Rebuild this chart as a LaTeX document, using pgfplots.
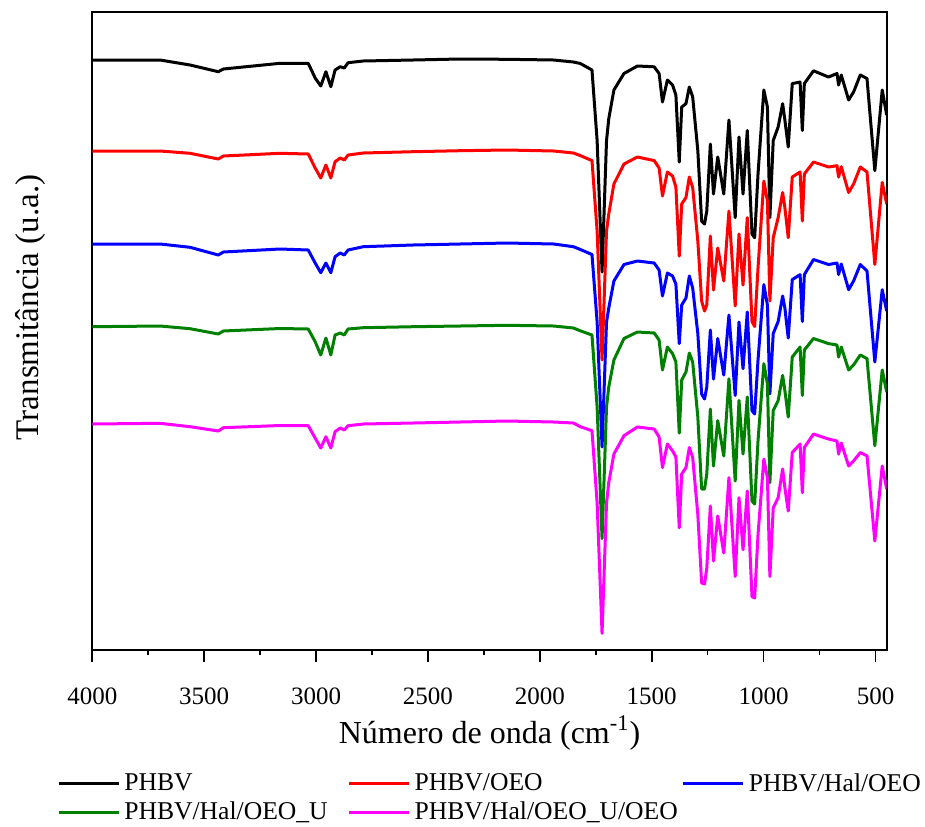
\documentclass[border=0pt]{standalone}
\usepackage{fontspec}
\setmainfont{Liberation Serif}
\usepackage{pgfplots}
\usepackage{pgfplotstable}
\pgfplotsset{compat=1.18}
\usetikzlibrary{calc}

\pgfplotstableread{
w k r b g m
4000 60 151 244 326.7 424
3697 60 151 244 326 423.3
3563 65 153.3 247.3 328.7 426.7
3437 71.7 159 255 334 431
3414 69 156 252 331 427.7
3161 63.3 153.3 249 328.5 425.5
3035 63.3 154 250 329 425.7
3004 78 168 263 341.7 438
2979 86 178 272.7 355 448
2956 71.7 165 263 338 436.7
2934 86.7 178 272.7 355 448
2915 70 161.7 256.7 335 431.7
2892 66.7 158 253 333 428
2874 68 160 255 335 430
2857 62.7 155 250 329 425.7
2789 61 153 246.7 327.7 424
2566 60 151.7 245 326.7 423
2356 59 150.7 244 326 422
2147 59.3 150 243 325.3 421
1938 60 151 244 326 422
1850 62 153 246.7 328 423
1819 63.5 155.6 249.5 330.8 426.7
1767 70 160.6 254.5 335 430.7
1744 140.5 231 322 407 503
1722 272 360 447 538.6 633.4
1702 140.5 231 322 407 503
1692 118.8 214 308 387 482.6
1669 90 184 281 360 454
1624 73.5 164 264.5 338.5 435.7
1564 66 157 261 332 427
1489 66.8 160.6 263 333 429
1467 73.5 168 270 340 437
1452 102 196 296 370 467.6
1430 80 172 273 347 444
1407 85 176 276 353.6 450.8
1392 95 187 284 362 457
1377 162 256 343.6 433 527.9
1366 107 204 305 380 474
1347 103.7 197.5 298 372 467.6
1332 87 177 276 353 447.5
1317 97 187.5 288 362 457.5
1294 150.6 241 333.5 417 514.5
1277 221 301 394 489 583
1264 224 311 399 489 584
1254 211 305 387 474 568
1238 144 236 330 409 506
1224 194 290 379 466 561
1205 157 248 338.5 420.6 516
1178 194 281 375 456 553
1155 120 211 315 378.8 477.6
1127 217.6 306 395.5 481 576.5
1110 137 234 322 400.5 497.7
1092 194 285 368.7 454 549.7
1073 130.5 217.6 312 397 491
1052 234 321.5 410.6 501 596.6
1040 237.7 326.5 414 504 598
1025 174 268 360 440.7 534.6
999 90 181 284.6 363.7 459
983 107 201 305 383.8 477.6
972 217.6 301 394 482.6 576.5
957 140.5 237.7 333.5 410.6 507.8
935 127 217.6 321.5 400.5 497.7
915 103.7 192.5 296 375.4 469
905 120 207.6 308 390.5 487.7
890 147 237.7 338 417 511
872 83.6 177 279.6 357 452.5
837 82 172 274.6 347 444
827 130.5 221 321.5 395.5 492.7
818 83.6 174 274.6 350 447.5
777 70.8 162 259.5 338.5 434
710 77 167 264.5 343.6 439
672 73.5 165.7 263 345 441
665 85 177 274.6 357 454
653 75 166.7 264 347 443
620 100 192.5 289.7 370 466
598 92 184 281 365 461
568 75 167 264.5 355 452.5
538 78.5 172 271 358.6 455.8
503 170.7 264.5 362 445.8 541
470 90 182.4 289.7 370 466
450 115 204 311 392 489
}\ftir

\definecolor{fgreen}{RGB}{0,128,0}
\definecolor{fmag}{RGB}{255,0,255}

\begin{document}
\begin{tikzpicture}
\begin{axis}[name=ax,
  width=397.2pt, height=319pt, scale only axis,
  x dir=reverse, xmin=450, xmax=4000,
  y dir=reverse, ymin=12, ymax=650,
  xtick={500,1000,...,4000},
  minor x tick num=1,
  ytick=\empty,
  xtick pos=bottom,
  tick align=outside,
  major tick length=6pt, minor tick length=2.5pt,
  every tick/.style={black, line width=0.8pt},
  axis line style={line width=1pt},
  tick label style={font=\fontsize{12.5}{15}\selectfont},
  xticklabel style={yshift=-9.5pt},
  /pgf/number format/assume math mode=true,
  /pgf/number format/1000 sep={},
  xlabel={Número de onda (cm\textsuperscript{-1})},
  ylabel={Transmitância (u.a.)},
  xlabel style={font=\fontsize{16}{19}\selectfont, yshift=1.5pt},
  ylabel style={font=\fontsize{16.5}{19}\selectfont, at={(axis description cs:-0.078,0.537)}, anchor=center},
  legend style={at={(0.502,-0.187)}, anchor=north, draw=none, inner sep=0pt, outer sep=0pt,
    font=\fontsize{12.8}{15}\selectfont, legend columns=3,
    /tikz/row sep=0pt,
    /tikz/column 2/.style={column sep=8pt},
    /tikz/column 4/.style={column sep=0pt}},
  legend cell align=left,
  legend image code/.code={\draw[#1] (0pt,0pt) -- (30pt,0pt);},
  every axis plot/.append style={line width=1.5pt, line join=round},
]
\addplot[black] table[x=w, y=k] {\ftir};
\addlegendentry{PHBV}
\addplot[red] table[x=w, y=r] {\ftir};
\addlegendentry{PHBV/OEO}
\addplot[blue] table[x=w, y=b] {\ftir};
\addlegendentry{PHBV/Hal/OEO}
\addplot[fgreen] table[x=w, y=g] {\ftir};
\addlegendentry{PHBV/Hal/OEO\_U}
\addplot[fmag] table[x=w, y=m] {\ftir};
\addlegendentry{PHBV/Hal/OEO\_U/OEO}
\end{axis}
\path ($(ax.south west)+(-46.15pt,-87pt)$) rectangle ($(ax.north east)+(19.15pt,6pt)$);
\end{tikzpicture}
\end{document}
